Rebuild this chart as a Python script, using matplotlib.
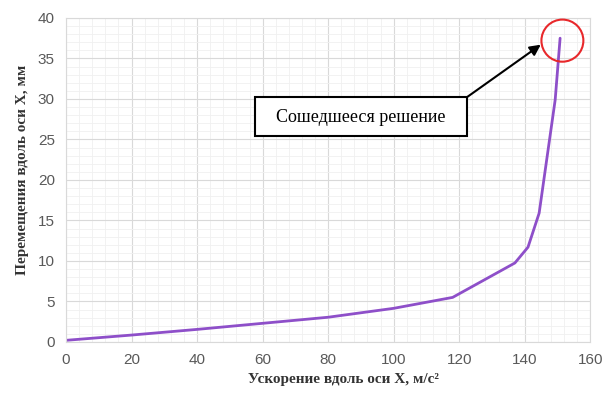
import matplotlib.pyplot as plt
from matplotlib.patches import Ellipse, Rectangle
import numpy as np

# данные
accel = [0, 20, 40, 60, 80, 100, 118, 137, 141, 144.4, 149.3, 150.8]
disp = [0.2, 0.85, 1.55, 2.3, 3.05, 4.15, 5.5, 9.75, 11.7, 15.9, 29.9, 37.5]

x_ticks = np.arange(0, 161, 20)
y_ticks = np.arange(0, 41, 5)

fig = plt.figure(figsize=(6.06, 3.99), dpi=100)
ax = fig.add_axes([0.109, 0.143, 0.865, 0.812])

ax.plot(accel, disp, color='#8e4fc9', lw=2, solid_capstyle='round')

ax.set_xlim(0, 160)
ax.set_ylim(0, 40)
ax.set_xticks(x_ticks)
ax.set_yticks(y_ticks)
ax.set_xticks(np.arange(0, 161, 4), minor=True)
ax.set_yticks(np.arange(0, 41, 1), minor=True)
ax.grid(which='major', color='#d9d9d9', lw=0.8)
ax.grid(which='minor', color='#f0f0f0', lw=0.6)
ax.set_axisbelow(True)
ax.tick_params(which='both', length=0)
ax.tick_params(axis='both', labelsize=11, labelcolor='#595959', pad=8)
for lab in ax.get_xticklabels() + ax.get_yticklabels():
    lab.set_family('Liberation Sans')
for s in ax.spines.values():
    s.set_color('#d9d9d9')
    s.set_linewidth(0.8)

serif = {'family': 'Liberation Serif', 'size': 11, 'weight': 'bold', 'color': '#333333'}
ax.set_xlabel('Ускорение вдоль оси X, м/с²', fontdict=serif)
ax.set_ylabel('Перемещения вдоль оси X, мм', fontdict=serif)
ax.xaxis.set_label_coords(0.53, -0.097)
ax.yaxis.set_label_coords(-0.07, 0.53)

# красный круг вокруг сошедшегося решения
ax.add_patch(Ellipse((151.5, 37.2), 12.8, 5.2, fill=False, ec='#e8282b', lw=1.5, zorder=4))

# подпись со стрелкой
ax.annotate('', xy=(144.9, 36.7), xytext=(122.3, 30.2),
            arrowprops=dict(arrowstyle='-|>', color='black', lw=1.5, mutation_scale=16,
                            shrinkA=0, shrinkB=0))
ax.add_patch(Rectangle((57.7, 25.4), 64.6, 4.8, fc='white', ec='black', lw=1.5, zorder=5))
ax.text(90, 27.75, 'Сошедшееся решение', ha='center', va='center',
        family='Liberation Serif', size=13, zorder=6)

fig.savefig('out.png', dpi=100)
